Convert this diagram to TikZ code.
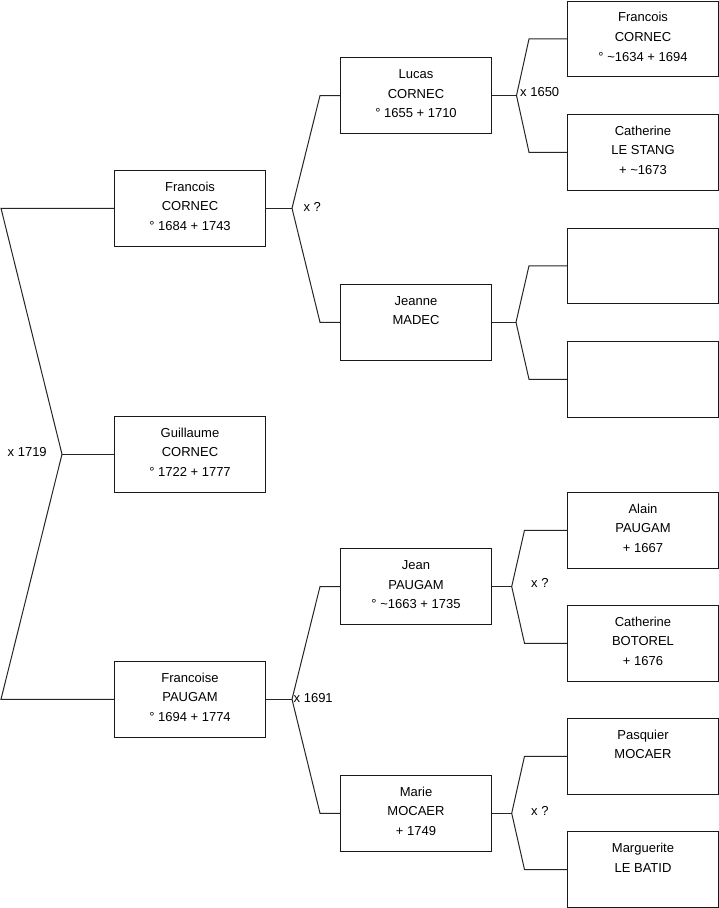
\documentclass[tikz,border=0pt]{standalone}
\usepackage{fontspec}
\setmainfont{Liberation Sans}
\tikzset{
  person/.style={draw=black!90, line width=1pt, minimum width=151pt, minimum height=75.5pt, inner sep=0pt, anchor=north west},
  ptext/.style={anchor=north, align=center, font=\fontsize{13}{19.7}\selectfont, inner sep=0pt},
  link/.style={draw=black!85, line width=1pt},
  mlabel/.style={anchor=base west, font=\fontsize{13}{16}\selectfont, inner sep=0pt}
}
\newcommand\personbox[4]{%
  \node[person] (#1) at (#2,#3) {};
  \node[ptext] (#1t) at ([yshift=-7.2pt]#1.north) {\strut #4};
}
\newcommand\emptybox[3]{%
  \node[person] (#1) at (#2,#3) {};
}
\begin{document}
\begin{tikzpicture}[x=1pt,y=-1pt]
\fill[white] (0,0) rectangle (719,908);
\useasboundingbox (0,0) rectangle (719,908);

% left column
\personbox{F1}{114}{170}{Francois\\CORNEC\\° 1684 + 1743}
\personbox{G}{114}{416}{Guillaume\\CORNEC\\° 1722 + 1777}
\personbox{F2}{114}{661}{Francoise\\PAUGAM\\° 1694 + 1774}
% middle column
\personbox{L}{340}{57.3}{Lucas\\CORNEC\\° 1655 + 1710}
\personbox{J}{340}{284}{Jeanne\\MADEC}
\personbox{Jn}{340}{548.3}{Jean\\PAUGAM\\° \textasciitilde1663 + 1735}
\personbox{M}{340}{775}{Marie\\MOCAER\\+ 1749}
% right column
\personbox{R1}{567}{0.7}{Francois\\CORNEC\\° \textasciitilde1634 + 1694}
\personbox{R2}{567}{114}{Catherine\\LE STANG\\+ \textasciitilde1673}
\emptybox{R3}{567}{227.5}
\emptybox{R4}{567}{341}
\personbox{R5}{567}{492}{Alain\\PAUGAM\\+ 1667}
\personbox{R6}{567}{605}{Catherine\\BOTOREL\\+ 1676}
\personbox{R7}{567}{718}{Pasquier\\MOCAER}
\personbox{R8}{567}{831.3}{Marguerite\\LE BATID}

% root fork
\coordinate (rootv) at ([xshift=-52pt]G.west);
\coordinate (rootu) at ([xshift=-113pt]F1.west);
\coordinate (rootd) at ([xshift=-113pt]F2.west);
\draw[link] (G.west) -- (rootv);
\draw[link] (rootv) -- (rootu) -- (F1.west);
\draw[link] (rootv) -- (rootd) -- (F2.west);

% Francois fork
\coordinate (F1v) at ([xshift=26pt]F1.east);
\draw[link] (F1.east) -- (F1v);
\draw[link] (F1v) -- ([xshift=-20pt]L.west) -- (L.west);
\draw[link] (F1v) -- ([xshift=-20pt]J.west) -- (J.west);

% Francoise fork
\coordinate (F2v) at ([xshift=26pt]F2.east);
\draw[link] (F2.east) -- (F2v);
\draw[link] (F2v) -- ([xshift=-20pt]Jn.west) -- (Jn.west);
\draw[link] (F2v) -- ([xshift=-20pt]M.west) -- (M.west);

% Lucas fork
\coordinate (Lv) at ([xshift=24.5pt]L.east);
\draw[link] (L.east) -- (Lv);
\draw[link] (Lv) -- ([xshift=-38pt]R1.west) -- (R1.west);
\draw[link] (Lv) -- ([xshift=-38pt]R2.west) -- (R2.west);

% Jeanne fork
\coordinate (Jv) at ([xshift=24pt]J.east);
\draw[link] (J.east) -- (Jv);
\draw[link] (Jv) -- ([xshift=-38pt]R3.west) -- (R3.west);
\draw[link] (Jv) -- ([xshift=-38pt]R4.west) -- (R4.west);

% Jean fork
\coordinate (Jnv) at ([xshift=19.7pt]Jn.east);
\draw[link] (Jn.east) -- (Jnv);
\draw[link] (Jnv) -- ([xshift=-42.5pt]R5.west) -- (R5.west);
\draw[link] (Jnv) -- ([xshift=-42.5pt]R6.west) -- (R6.west);

% Marie fork
\coordinate (Mv) at ([xshift=19.7pt]M.east);
\draw[link] (M.east) -- (Mv);
\draw[link] (Mv) -- ([xshift=-42.5pt]R7.west) -- (R7.west);
\draw[link] (Mv) -- ([xshift=-42.5pt]R8.west) -- (R8.west);

% marriage labels
\node[mlabel] (m1719) at (7.5,456.3) {x 1719};
\node[mlabel] (mF1) at (303.3,211) {x ?};
\node[mlabel] (m1691) at (293.5,702.3) {x 1691};
\node[mlabel] (m1650) at (520,96.7) {x 1650};
\node[mlabel] (mJn) at (531,587.7) {x ?};
\node[mlabel] (mM) at (531,815.7) {x ?};
\end{tikzpicture}
\end{document}
